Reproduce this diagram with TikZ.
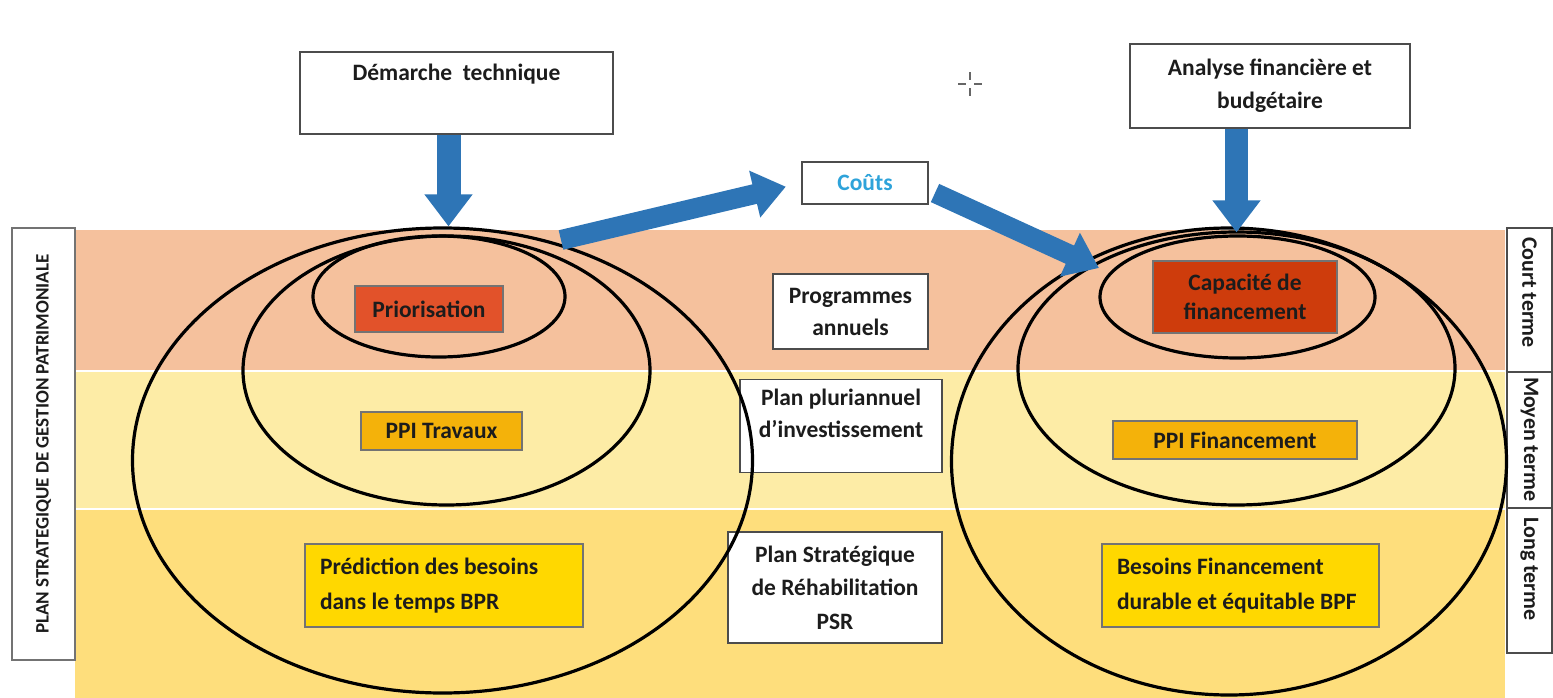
\documentclass[tikz,border=0pt]{standalone}
\usepackage{fontspec}
\setmainfont{Carlito}
\usetikzlibrary{shapes.geometric,arrows.meta}
\definecolor{salmon}{RGB}{245,193,157}
\definecolor{lyellow}{RGB}{253,236,166}
\definecolor{dyellow}{RGB}{254,222,124}
\definecolor{arrowblue}{RGB}{46,117,182}
\definecolor{coutsblue}{RGB}{46,163,218}
\definecolor{redorange}{RGB}{226,82,42}
\definecolor{darkred}{RGB}{206,60,12}
\definecolor{ppiorange}{RGB}{244,178,10}
\definecolor{gold}{RGB}{255,216,0}
\definecolor{txtcol}{RGB}{28,28,28}
\begin{document}
\begin{tikzpicture}[x=1pt,y=-1pt,
  every node/.style={font=\fontsize{23.5}{32}\selectfont\bfseries, text=txtcol, inner sep=0pt},
  whitebox/.style={draw=black!70, line width=1.2pt, fill=white, align=center},
  colbox/.style={draw=black!55, line width=1.2pt, align=center},
  sidebox/.style={draw=black!70, line width=1.2pt, fill=white, text width=126pt, inner xsep=9pt, align=flush left},
  ring/.style={draw=black, line width=3.2pt, ellipse},
  bigarrow/.style={draw=arrowblue, line width=#1, -{Triangle[width=46pt,length=32pt]}},
]
\useasboundingbox (0,0) rectangle (1553,698);
\fill[white] (0,0) rectangle (1553,698);
% bands
\fill[salmon] (75,230) rectangle (1505,370);
\fill[lyellow] (75,372) rectangle (1505,508);
\fill[dyellow] (75,510) rectangle (1505,698);

% side labels
\node[draw=black!55, line width=1.2pt, fill=white, rotate=90, minimum width=432pt, minimum height=63pt, font=\fontsize{19}{22}\selectfont\bfseries] (plan) at (43.5,444) {PLAN STRATEGIQUE DE GESTION PATRIMONIALE};
\node[sidebox, rotate=-90, minimum width=144pt, minimum height=45pt, font=\fontsize{22}{24}\selectfont\bfseries] (court) at (1529.5,300) {Court terme};
\node[sidebox, rotate=-90, minimum width=136pt, minimum height=45pt, inner xsep=5pt, font=\fontsize{22}{24}\selectfont\bfseries] (moyen) at (1529.5,440) {Moyen terme};
\node[sidebox, rotate=-90, minimum width=145pt, minimum height=45pt, font=\fontsize{22}{24}\selectfont\bfseries] (long) at (1529.5,580.5) {Long terme};

% colored boxes
\node[colbox, fill=redorange, minimum width=148pt, minimum height=46pt] (prio) at (429,309) {Priorisation};
\node[colbox, fill=ppiorange, minimum width=161pt, minimum height=38pt] (ppit) at (441.5,431) {PPI Travaux};
\node[colbox, fill=gold, minimum width=278pt, minimum height=83pt, text width=248pt, align=flush left, font=\fontsize{23.5}{35}\selectfont\bfseries] (pred) at (444,585.5) {Prédiction des besoins\\dans le temps BPR};
\node[colbox, fill=darkred, minimum width=184pt, minimum height=72pt, font=\fontsize{23.5}{29}\selectfont\bfseries] (capa) at (1245,297) {Capacité de\\financement};
\node[colbox, fill=ppiorange, minimum width=244pt, minimum height=38pt] (ppif) at (1235,440) {PPI Financement};
\node[colbox, fill=gold, minimum width=277pt, minimum height=83pt, text width=247pt, align=flush left, font=\fontsize{23.5}{35}\selectfont\bfseries] (bpf) at (1240.5,585.5) {Besoins Financement\\durable et équitable BPF};

% middle white boxes
\node[whitebox, minimum width=155pt, minimum height=75pt] (prog) at (850.5,311.5) {Programmes\\annuels};
\node[whitebox, minimum width=202pt, minimum height=93pt, text depth=26pt] (ppi) at (841,426) {Plan pluriannuel\\d’investissement};
\node[whitebox, minimum width=214pt, minimum height=111pt, font=\fontsize{23.5}{33.5}\selectfont\bfseries] (psr) at (835,587.5) {Plan Stratégique\\de Réhabilitation\\PSR};

% ellipses
\node[ring, minimum width=620pt, minimum height=465pt] (L1) at (442.5,460.5) {};
\node[ring, minimum width=407pt, minimum height=269pt] (L2) at (446.5,370.5) {};
\node[ring, minimum width=252pt, minimum height=121pt] (L3) at (439,296.5) {};
\node[ring, minimum width=555pt, minimum height=467pt] (R1) at (1229,461.5) {};
\node[ring, minimum width=437pt, minimum height=273pt] (R2) at (1236.5,368.5) {};
\node[ring, minimum width=275pt, minimum height=122pt] (R3) at (1237.5,297) {};

% top boxes
\node[whitebox, minimum width=313pt, minimum height=82pt] (dem) at (456.5,93) {};
\node[anchor=north] (demt) at ([yshift=-12pt]dem.north) {Démarche\ \ technique};
\node[whitebox, minimum width=280pt, minimum height=84pt, font=\fontsize{23.5}{33}\selectfont\bfseries] (ana) at (1270,86) {Analyse financière et\\budgétaire};
\node[whitebox, minimum width=126pt, minimum height=42pt, text=coutsblue] (couts) at (865,183) {Coûts};

% arrows
\draw[bigarrow=24pt] ([xshift=6pt]dem.south -| L1.north) -- ([xshift=6pt]L1.north);
\draw[bigarrow=23pt] (ana.south -| R2.north) -- ([yshift=-2pt]R2.north);
\coordinate (a1s) at (561,240);
\coordinate (a2s) at (935,193);
\coordinate (a2e) at (1099,268);
\draw[bigarrow=20pt, shorten >=16pt] (a1s) -- (couts.west);
\draw[bigarrow=20pt] (a2s) -- (a2e);

% cursor mark
\coordinate (cm) at (970,84);
\draw[black!60, line width=1.8pt] ([xshift=-12pt]cm) -- ([xshift=-4pt]cm) ([xshift=4pt]cm) -- ([xshift=12pt]cm)
  ([yshift=-12pt]cm) -- ([yshift=-4pt]cm) ([yshift=4pt]cm) -- ([yshift=12pt]cm);
\end{tikzpicture}
\end{document}
